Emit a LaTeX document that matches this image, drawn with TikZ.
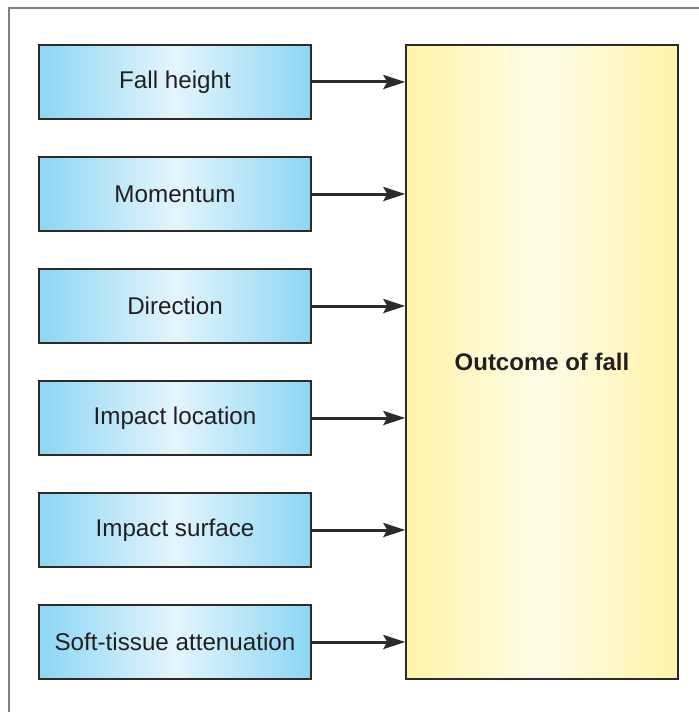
\documentclass[tikz,border=0pt]{standalone}
\usepackage{fontspec}
\setmainfont{Liberation Sans}
\usetikzlibrary{arrows.meta}
\definecolor{cblue}{RGB}{140,214,245}
\definecolor{clight}{RGB}{228,245,252}
\definecolor{cyel}{RGB}{255,243,168}
\definecolor{cyellight}{RGB}{255,252,232}
\definecolor{cline}{RGB}{45,42,42}
\definecolor{ctext}{RGB}{35,31,32}
\definecolor{cframe}{RGB}{128,128,128}
\tikzset{
  factor/.style={draw=cline, line width=1.3bp, left color=cblue, right color=cblue, middle color=clight,
    minimum width=272bp, minimum height=74bp, inner sep=0pt, text=ctext,
    font=\fontsize{24.2bp}{28bp}\selectfont},
  outcome/.style={draw=cline, line width=1.3bp, left color=cyel, right color=cyel, middle color=cyellight,
    minimum width=272bp, minimum height=634bp, inner sep=0pt, text=ctext,
    font=\fontsize{24bp}{28bp}\selectfont\bfseries},
  conn/.style={draw=cline, line width=3bp, -{Stealth[length=22bp,width=14bp,inset=4bp]}},
}
\begin{document}
\begin{tikzpicture}[x=1bp,y=-1bp]
\useasboundingbox (0,0) rectangle (699,712);
\draw[cframe, line width=1.5bp] (9,712) -- (9,8) -- (699,8);
\node[outcome] (out) at (542,362) {Outcome of fall};
\node[factor] (f1) at (175,82) {Fall height};
\node[factor] (f2) at (175,194) {Momentum};
\node[factor] (f3) at (175,306) {Direction};
\node[factor] (f4) at (175,418) {Impact location};
\node[factor] (f5) at (175,530) {Impact surface};
\node[factor] (f6) at (175,642) {Soft-tissue attenuation};
\foreach \i in {1,...,6}{
  \draw[conn] (f\i.east) -- (f\i.east -| out.west);
}
\end{tikzpicture}
\end{document}
